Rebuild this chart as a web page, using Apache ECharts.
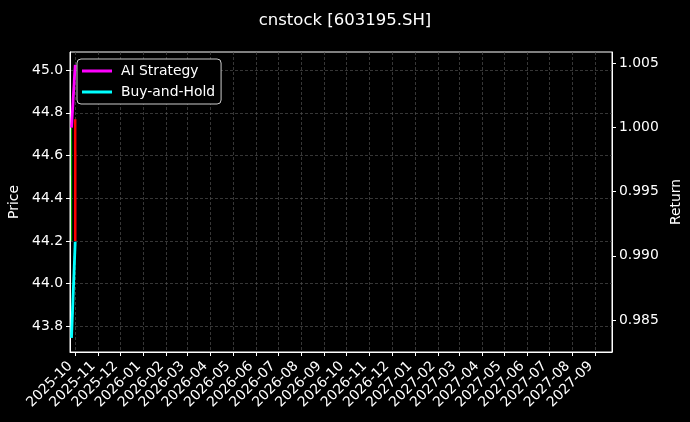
<!DOCTYPE html>
<html>
<head>
<meta charset="utf-8">
<script src="https://cdn.jsdelivr.net/npm/echarts@6/dist/echarts.min.js"></script>
<style>
html,body{margin:0;padding:0;background:#000;}
#chart{width:690px;height:422px;}
</style>
</head>
<body>
<div id="chart"></div>
<script>
// ---- data ----
const monthLabels = ['2025-10','2025-11','2025-12','2026-01','2026-02','2026-03','2026-04','2026-05','2026-06','2026-07','2026-08','2026-09','2026-10','2026-11','2026-12','2027-01','2027-02','2027-03','2027-04','2027-05','2027-06','2027-07','2027-08','2027-09'];
const priceTicks = [43.8, 44.0, 44.2, 44.4, 44.6, 44.8, 45.0];
const returnTicks = [0.985, 0.990, 0.995, 1.000, 1.005];

const priceDownDates = ['2025-09-26T00:00:00', '2025-09-26T02:00:00'];
const priceDownValues = [44.73, 44.20];
const priceUpDates = ['2025-10-01T00:00:00', '2025-10-01T02:00:00'];
const priceUpValues = [44.77, 44.20];

const returnDates = ['2025-09-26T00:00:00', '2025-10-01T00:00:00'];
const aiStrategy = [1.000, 1.0049];
const buyAndHold = [0.9836, 0.9911];

const xMin = '2025-09-24T00:00:00';
const xMax = '2027-09-23T00:00:00';

// ---- build ----
const ts = s => new Date(s).getTime();
const monthTs = monthLabels.map(m => ts(m + '-01T00:00:00'));
const pair = (d, v) => d.map((x, i) => [ts(x), v[i]]);
const fmtMonth = v => { const d = new Date(v); return d.getFullYear() + '-' + String(d.getMonth() + 1).padStart(2, '0'); };

const white = '#ffffff';
const font = 'DejaVu Sans';
const fs = 13.9;
const gridLine = { show: true, lineStyle: { color: '#4d4d4d', type: [3, 2], width: 0.7 } };

const chart = echarts.init(document.getElementById('chart'));
chart.setOption({
  backgroundColor: '#000000',
  animation: false,
  textStyle: { fontFamily: font },
  title: {
    text: 'cnstock [603195.SH]',
    left: 'center',
    top: 7,
    textStyle: { color: white, fontSize: 16.5, fontWeight: 'normal', fontFamily: font }
  },
  legend: {
    data: ['AI Strategy', 'Buy-and-Hold'],
    orient: 'vertical',
    left: 77,
    top: 59,
    padding: [4, 6, 4, 5],
    itemGap: 5,
    itemWidth: 30,
    itemHeight: 3,
    icon: 'rect',
    backgroundColor: '#000000',
    borderColor: '#cccccc',
    borderWidth: 1,
    borderRadius: 4,
    textStyle: { color: white, fontSize: fs, fontFamily: font, lineHeight: 16, padding: [0, 0, 0, 4] }
  },
  grid: {
    left: 70, right: 78, top: 52, bottom: 70,
    show: true, borderColor: white, borderWidth: 1,
    outerBoundsMode: 'none', containLabel: false
  },
  xAxis: {
    type: 'value',
    min: ts(xMin),
    max: ts(xMax),
    axisLine: { show: true, onZero: false, lineStyle: { color: white, width: 1 } },
    axisTick: { show: true, customValues: monthTs, length: 4, lineStyle: { color: white } },
    axisLabel: {
      customValues: monthTs, rotate: 45, color: white, fontSize: fs, fontFamily: font,
      margin: 7, padding: [0, 7, 0, 0], formatter: fmtMonth, hideOverlap: false
    },
    splitLine: gridLine
  },
  yAxis: [
    {
      type: 'value',
      min: 43.68, max: 45.085,
      name: 'Price', nameLocation: 'middle', nameRotate: 90, nameGap: 43,
      nameTextStyle: { color: white, fontSize: fs, fontFamily: font },
      axisLine: { show: true, onZero: false, lineStyle: { color: white } },
      axisTick: { show: true, customValues: priceTicks, length: 4, lineStyle: { color: white } },
      axisLabel: { customValues: priceTicks, color: white, fontSize: fs, fontFamily: font, margin: 7, formatter: v => v.toFixed(1) },
      splitLine: gridLine
    },
    {
      type: 'value',
      min: 0.9825, max: 1.0059,
      position: 'right',
      name: 'Return', nameLocation: 'middle', nameRotate: 90, nameGap: 52,
      nameTextStyle: { color: white, fontSize: fs, fontFamily: font },
      axisLine: { show: true, onZero: false, lineStyle: { color: white } },
      axisTick: { show: true, customValues: returnTicks, length: 4, lineStyle: { color: white } },
      axisLabel: { customValues: returnTicks, color: white, fontSize: fs, fontFamily: font, margin: 7, formatter: v => v.toFixed(3) },
      splitLine: { show: false }
    }
  ],
  series: [
    {
      name: 'Price down', type: 'line', yAxisIndex: 0, symbol: 'none',
      data: pair(priceDownDates, priceDownValues),
      lineStyle: { color: '#00a000', width: 1.2 }, itemStyle: { color: '#00a000' }
    },
    {
      name: 'Price up', type: 'line', yAxisIndex: 0, symbol: 'none',
      data: pair(priceUpDates, priceUpValues),
      lineStyle: { color: '#ff0000', width: 2.5 }, itemStyle: { color: '#ff0000' }
    },
    {
      name: 'AI Strategy', type: 'line', yAxisIndex: 1, symbol: 'none',
      data: pair(returnDates, aiStrategy),
      lineStyle: { color: '#ff00ff', width: 2.8 }, itemStyle: { color: '#ff00ff' }
    },
    {
      name: 'Buy-and-Hold', type: 'line', yAxisIndex: 1, symbol: 'none',
      data: pair(returnDates, buyAndHold),
      lineStyle: { color: '#00ffff', width: 2.8 }, itemStyle: { color: '#00ffff' }
    }
  ]
});
</script>
</body>
</html>
